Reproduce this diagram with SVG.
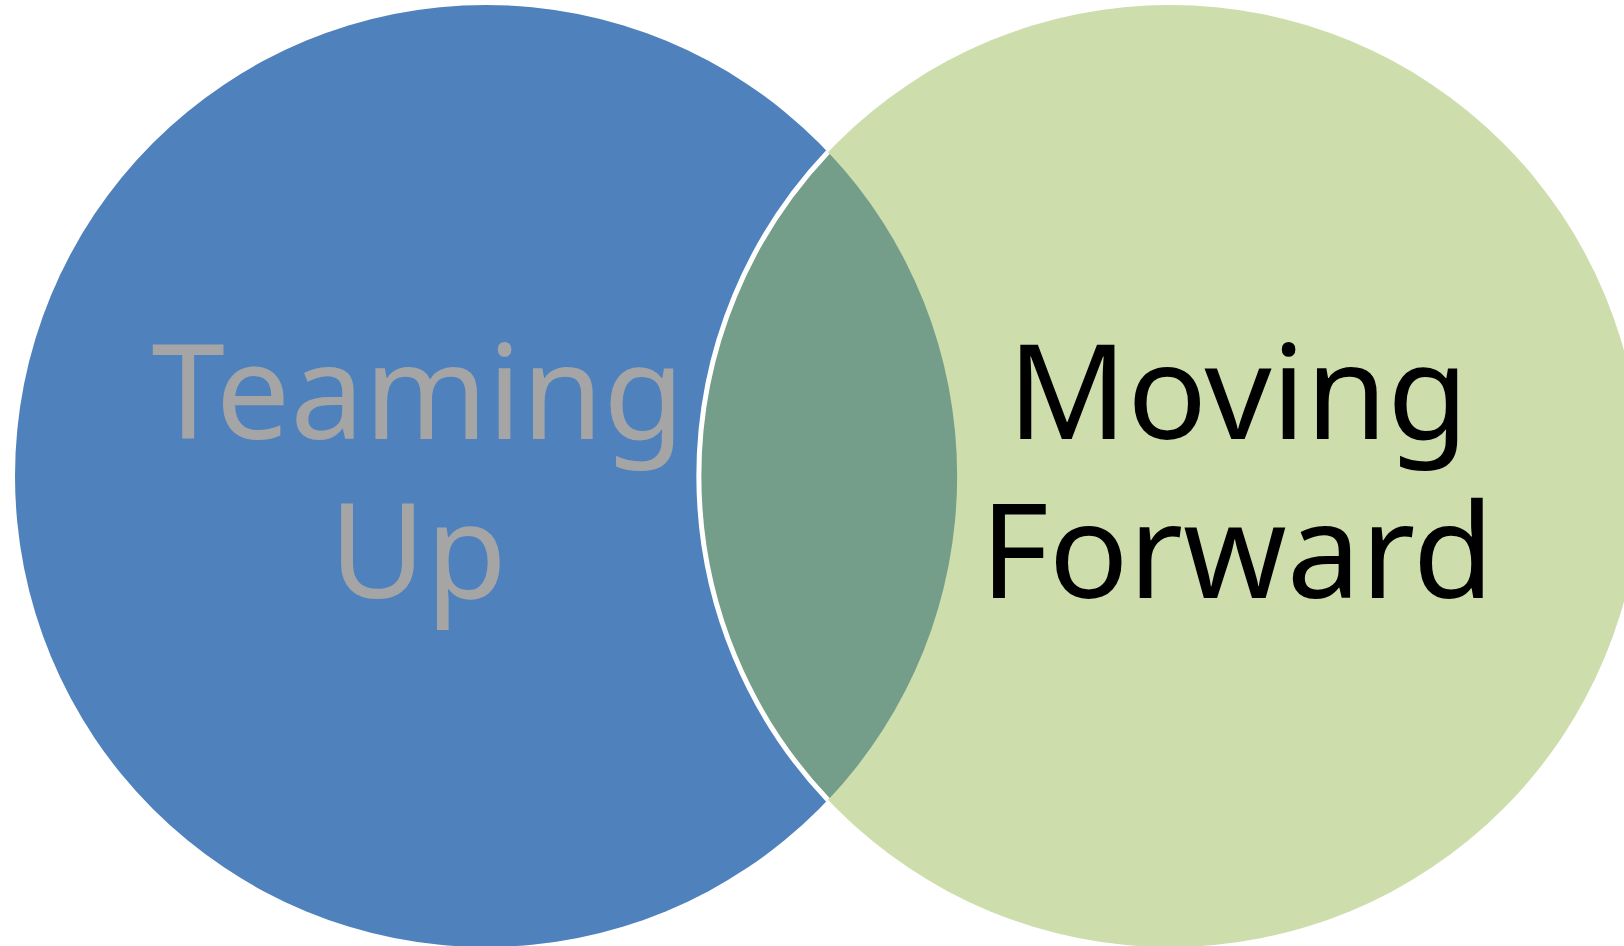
<svg xmlns="http://www.w3.org/2000/svg" width="1624" height="946" viewBox="0 0 1624 946">
<style>
.lbl{font-family:"Noto Sans","Open Sans","DejaVu Sans",sans-serif;font-size:132px;text-anchor:middle}
</style>
<rect width="1624" height="946" fill="#ffffff"/>
<g id="circle-teaming">
<circle cx="486" cy="476" r="471" fill="#4F81BD"/>
</g>
<g id="circle-moving">
<circle cx="1170" cy="476" r="471" fill="#CDDDAC"/>
</g>
<g id="overlap">
<path d="M828,152 A471,471 0 0 1 828,800 A471,471 0 0 1 828,152 Z" fill="#749D8A"/>
<path d="M828,152 A471,471 0 0 0 828,800" fill="none" stroke="#ffffff" stroke-width="5"/>
</g>
<g id="label-teaming">
<text class="lbl" fill="#A5A5A5"><tspan x="418" y="439">Teaming</tspan><tspan x="418" y="598">Up</tspan></text>
</g>
<g id="label-moving">
<text class="lbl" fill="#000000"><tspan x="1238" y="439">Moving</tspan><tspan x="1237" y="598">Forward</tspan></text>
</g>
<g id="connectors"/>
</svg>
